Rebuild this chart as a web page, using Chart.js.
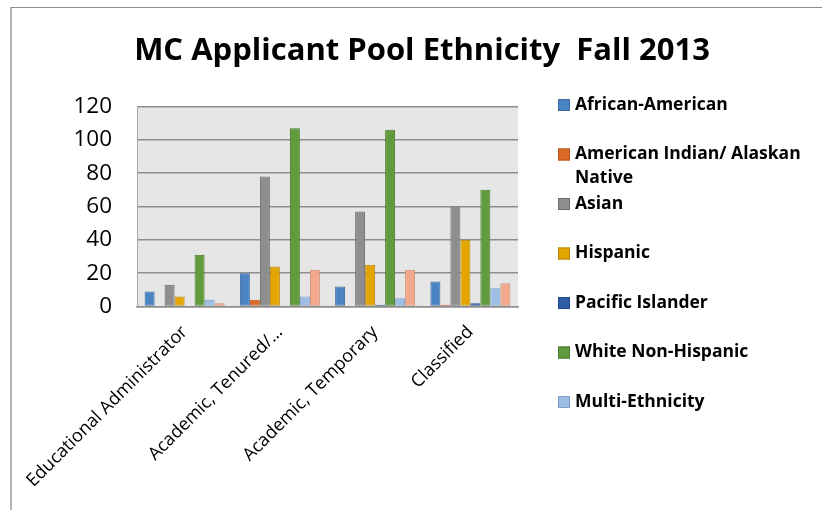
<!DOCTYPE html>
<html>
<head>
<meta charset="utf-8">
<script src="https://cdn.jsdelivr.net/npm/chart.js@4"></script>
<style>
  html, body { margin: 0; padding: 0; background: #fff; }
  #wrap { position: relative; width: 822px; height: 510px; }
  #frame { position: absolute; left: 10px; top: 7px; right: 0; bottom: 0; border-top: 1px solid #8c8c8c; border-left: 2px solid #b4b4b4; }
  #chart { position: absolute; left: 0; top: 0; }
</style>
</head>
<body>
<div id="wrap">
  <div id="frame"></div>
  <canvas id="chart" width="822" height="510"></canvas>
</div>
<script>
// data

const categories = ["Educational Administrator", "Academic, Tenured/…", "Academic, Temporary", "Classified"];
const seriesNames = ["African-American", "American Indian/ Alaskan Native", "Asian", "Hispanic",
  "Pacific Islander", "White Non-Hispanic", "Multi-Ethnicity", "Unknown"];
const africanAmerican = [9, 20, 12, 15];
const americanIndian = [0, 4, 0, 1];
const asian = [13, 78, 57, 60];
const hispanic = [6, 24, 25, 40];
const pacificIslander = [0, 0, 1, 2];
const whiteNonHispanic = [31, 107, 106, 70];
const multiEthnicity = [4, 6, 5, 11];
const unknown = [2, 22, 22, 14];
const yTicks = [0, 20, 40, 60, 80, 100, 120];
// the last series is cut off from the legend in the original
const legendCount = 7;

const fills = ["#4a84c2", "#dd6b26", "#8e8e8e", "#e3a600", "#2e5ea8", "#609b3d", "#9dbfe6", "#f3a98c"];
const borders = ["#3a6a9e", "#b5561e", "#6b6b6b", "#b8860b", "#22488a", "#4a7a2e", "#7d9fc6", "#cf8a70"];
const values = [africanAmerican, americanIndian, asian, hispanic, pacificIslander, whiteNonHispanic, multiEthnicity, unknown];

// grey plot background
const plotBg = {
  id: "plotBg",
  beforeDraw(chart) {
    const a = chart.chartArea;
    chart.ctx.save();
    chart.ctx.fillStyle = "#e6e6e6";
    chart.ctx.fillRect(a.left, a.top, a.right - a.left, a.bottom - a.top);
    chart.ctx.restore();
  },
};

// legend on the right, Excel style (wrapped label keeps its slot)
const sideLegend = {
  id: "sideLegend",
  beforeInit(chart) {
    const box = {
      position: "right",
      weight: 1000,
      fullSize: false,
      options: {},
      update(maxWidth, maxHeight) {
        this.width = 304;
        this.height = maxHeight;
      },
      isHorizontal() {
        return false;
      },
      draw() {
        const ctx = chart.ctx;
        ctx.save();
        ctx.font = 'bold 17.5px "Open Sans"';
        ctx.textBaseline = "middle";
        ctx.textAlign = "left";
        const boxX = this.left + 40;
        const textX = this.left + 57;
        const maxW = 822 - textX - 6;
        let y = this.top - 1.5;
        chart.data.datasets.slice(0, legendCount).forEach((ds) => {
          // wrap words
          const lines = [];
          let line = "";
          ds.label.split(" ").forEach((w) => {
            const t = line ? line + " " + w : w;
            if (line && ctx.measureText(t).width > maxW) {
              lines.push(line);
              line = w;
            } else line = t;
          });
          lines.push(line);
          ctx.fillStyle = ds.backgroundColor;
          ctx.strokeStyle = ds.borderColor;
          ctx.lineWidth = 1;
          ctx.fillRect(boxX, y - 6, 12, 12);
          ctx.strokeRect(boxX + 0.5, y - 5.5, 11, 11);
          ctx.fillStyle = "#000";
          lines.forEach((l, i) => ctx.fillText(l, textX, y + i * 24));
          y += 49.5;
        });
        ctx.restore();
      },
    };
    Chart.layouts.addBox(chart, box);
  },
};

const ctx = document.getElementById("chart");

new Chart(ctx, {
  type: "bar",
  data: {
    labels: categories,
    datasets: seriesNames.map((name, i) => ({
      label: name,
      data: values[i],
      backgroundColor: fills[i],
      borderColor: borders[i],
      borderWidth: 1,
      borderSkipped: false,
      categoryPercentage: 0.84,
      barPercentage: 1,
    })),
  },
  options: {
    responsive: false,
    animation: false,
    layout: { padding: { left: 22, right: 0, top: 0, bottom: 0 } },
    plugins: {
      legend: { display: false },
      tooltip: { enabled: false },
      title: {
        display: true,
        text: "MC Applicant Pool Ethnicity  Fall 2013",
        color: "#000",
        font: { family: "Open Sans", size: 31, weight: "bold", lineHeight: 1.2 },
        padding: { top: 32.5, bottom: 36.8 },
      },
    },
    scales: {
      x: {
        grid: { display: false },
        border: { color: "#8e8e8e", width: 1.5 },
        ticks: {
          color: "#000",
          font: { family: "Open Sans", size: 18 },
          minRotation: 45,
          maxRotation: 45,
          padding: 7,
        },
        afterFit(scale) {
          scale.height = 203.5;
        },
      },
      y: {
        min: 0,
        max: 120,
        afterBuildTicks(scale) {
          scale.ticks = yTicks.map((v) => ({ value: v }));
        },
        grid: { color: "#8e8e8e", lineWidth: 1.5, drawTicks: false },
        border: { color: "#a8a8a8", width: 1 },
        ticks: {
          color: "#000",
          font: { family: "Open Sans", size: 22.5 },
          padding: 25,
        },
        afterFit(scale) {
          scale.width = 115;
        },
      },
    },
  },
  plugins: [plotBg, sideLegend],
});
</script>
</body>
</html>
